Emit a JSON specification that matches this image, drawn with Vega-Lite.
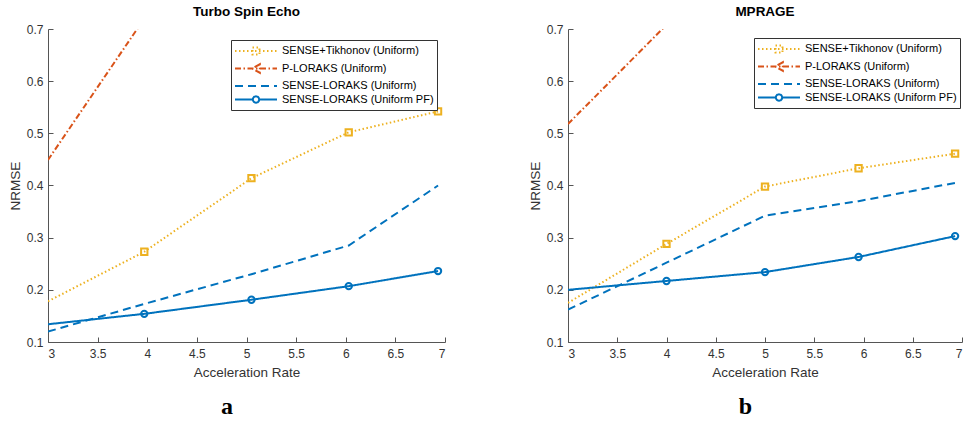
{
  "$schema": "https://vega.github.io/schema/vega-lite/v6.json",
  "padding": {"left": 8, "top": 4, "right": 0, "bottom": 0},
  "background": "white",
  "config": {
    "font": "Liberation Sans",
    "view": {"stroke": null},
    "axis": {"grid": false, "domainColor": "#555555", "tickColor": "#555555", "labelColor": "#333333", "titleColor": "#333333", "labelFont": "Liberation Sans", "titleFont": "Liberation Sans", "labelFontSize": 12, "titleFontSize": 13.5, "titleFontWeight": "normal", "tickSize": -5, "domainWidth": 1, "tickWidth": 1},
    "title": {"font": "Liberation Sans", "fontSize": 13.5, "fontWeight": "bold", "color": "#000000"}
  },
  "resolve": {"scale": {"color": "independent", "strokeDash": "independent"}, "legend": {"color": "independent", "strokeDash": "independent"}},
  "datasets": {
    "d": [
      {"panel": "a", "series": "SENSE+Tikhonov (Uniform)", "x": 3, "y": 0.178},
      {"panel": "a", "series": "SENSE+Tikhonov (Uniform)", "x": 3.97, "y": 0.273},
      {"panel": "a", "series": "SENSE+Tikhonov (Uniform)", "x": 5.05, "y": 0.414},
      {"panel": "a", "series": "SENSE+Tikhonov (Uniform)", "x": 6.03, "y": 0.502},
      {"panel": "a", "series": "SENSE+Tikhonov (Uniform)", "x": 6.93, "y": 0.542},
      {"panel": "a", "series": "P-LORAKS (Uniform)", "x": 3, "y": 0.449},
      {"panel": "a", "series": "P-LORAKS (Uniform)", "x": 3.97, "y": 0.72},
      {"panel": "a", "series": "SENSE-LORAKS (Uniform)", "x": 3, "y": 0.12},
      {"panel": "a", "series": "SENSE-LORAKS (Uniform)", "x": 3.97, "y": 0.173},
      {"panel": "a", "series": "SENSE-LORAKS (Uniform)", "x": 5.05, "y": 0.23},
      {"panel": "a", "series": "SENSE-LORAKS (Uniform)", "x": 6.03, "y": 0.285},
      {"panel": "a", "series": "SENSE-LORAKS (Uniform)", "x": 6.93, "y": 0.4},
      {"panel": "a", "series": "SENSE-LORAKS (Uniform PF)", "x": 3, "y": 0.134},
      {"panel": "a", "series": "SENSE-LORAKS (Uniform PF)", "x": 3.97, "y": 0.154},
      {"panel": "a", "series": "SENSE-LORAKS (Uniform PF)", "x": 5.05, "y": 0.181},
      {"panel": "a", "series": "SENSE-LORAKS (Uniform PF)", "x": 6.03, "y": 0.207},
      {"panel": "a", "series": "SENSE-LORAKS (Uniform PF)", "x": 6.93, "y": 0.236},
      {"panel": "b", "series": "SENSE+Tikhonov (Uniform)", "x": 3, "y": 0.175},
      {"panel": "b", "series": "SENSE+Tikhonov (Uniform)", "x": 4, "y": 0.288},
      {"panel": "b", "series": "SENSE+Tikhonov (Uniform)", "x": 5, "y": 0.398},
      {"panel": "b", "series": "SENSE+Tikhonov (Uniform)", "x": 5.95, "y": 0.433},
      {"panel": "b", "series": "SENSE+Tikhonov (Uniform)", "x": 6.93, "y": 0.461},
      {"panel": "b", "series": "P-LORAKS (Uniform)", "x": 3, "y": 0.518},
      {"panel": "b", "series": "P-LORAKS (Uniform)", "x": 4, "y": 0.708},
      {"panel": "b", "series": "SENSE-LORAKS (Uniform)", "x": 3, "y": 0.162},
      {"panel": "b", "series": "SENSE-LORAKS (Uniform)", "x": 4, "y": 0.252},
      {"panel": "b", "series": "SENSE-LORAKS (Uniform)", "x": 5, "y": 0.342},
      {"panel": "b", "series": "SENSE-LORAKS (Uniform)", "x": 5.95, "y": 0.37},
      {"panel": "b", "series": "SENSE-LORAKS (Uniform)", "x": 6.93, "y": 0.405},
      {"panel": "b", "series": "SENSE-LORAKS (Uniform PF)", "x": 3, "y": 0.2},
      {"panel": "b", "series": "SENSE-LORAKS (Uniform PF)", "x": 4, "y": 0.217},
      {"panel": "b", "series": "SENSE-LORAKS (Uniform PF)", "x": 5, "y": 0.234},
      {"panel": "b", "series": "SENSE-LORAKS (Uniform PF)", "x": 5.95, "y": 0.263},
      {"panel": "b", "series": "SENSE-LORAKS (Uniform PF)", "x": 6.93, "y": 0.303}
    ]
  },
  "spacing": 82,
  "hconcat": [
    {
      "title": {"text": "a", "orient": "bottom", "font": "Liberation Serif", "fontSize": 24, "fontWeight": "bold", "offset": 16, "anchor": "middle"},
      "vconcat": [
        {
          "title": {"text": "Turbo Spin Echo", "offset": 5},
          "width": 397,
          "height": 313,
          "data": {"name": "d"},
          "transform": [{"filter": "datum.panel === 'a'"}],
          "encoding": {
            "x": {"field": "x", "type": "quantitative", "scale": {"domain": [3, 7], "nice": false, "zero": false}, "axis": {"title": "Acceleration Rate", "values": [3, 3.5, 4, 4.5, 5, 5.5, 6, 6.5, 7], "format": "~g", "labelPadding": 11, "titlePadding": 6}},
            "y": {"field": "y", "type": "quantitative", "scale": {"domain": [0.1, 0.7], "nice": false, "zero": false}, "axis": {"title": "NRMSE", "values": [0.1, 0.2, 0.3, 0.4, 0.5, 0.6, 0.7], "format": ".1f", "labelPadding": 10, "titlePadding": 4}}
          },
          "layer": [
            {
              "mark": {"type": "line", "strokeWidth": 2, "clip": true},
              "encoding": {
                "color": {"field": "series", "type": "nominal", "scale": {"domain": ["SENSE+Tikhonov (Uniform)", "P-LORAKS (Uniform)", "SENSE-LORAKS (Uniform)", "SENSE-LORAKS (Uniform PF)"], "range": ["#EDB120", "#D95319", "#0072BD", "#0072BD"]},
                  "legend": {"title": null, "orient": "none", "legendX": 183, "legendY": 11, "fillColor": "white", "strokeColor": "#333333", "padding": 3, "labelFontSize": 11, "labelColor": "#000000", "symbolSize": 196, "symbolStrokeWidth": 2, "rowPadding": 0.5, "labelOffset": 32,
                    "encode": {"symbols": {"update": {"shape": {"signal": "datum.value === 'SENSE+Tikhonov (Uniform)' ? 'M-1,0H5M1.5,-0.5H2.5V0.5H1.5Z' : datum.value === 'P-LORAKS (Uniform)' ? 'M-1,0H5M2.55,-0.6L1.45,0L2.55,0.6Z' : datum.value === 'SENSE-LORAKS (Uniform PF)' ? 'M-1,0H1.55M2.45,0H5M1.55,0A0.45,0.45 0 1,0 2.45,0A0.45,0.45 0 1,0 1.55,0' : 'M-1,0H5'"}, "fill": {"value": "transparent"}}}}}},
                "strokeDash": {"field": "series", "type": "nominal", "scale": {"domain": ["SENSE+Tikhonov (Uniform)", "P-LORAKS (Uniform)", "SENSE-LORAKS (Uniform)", "SENSE-LORAKS (Uniform PF)"], "range": [[1.5, 2.5], [6, 2.5, 1.5, 2.5], [8, 5], [1, 0]]},
                  "legend": {"title": null, "orient": "none", "legendX": 183, "legendY": 11, "fillColor": "white", "strokeColor": "#333333", "padding": 3, "labelFontSize": 11, "labelColor": "#000000", "symbolSize": 196, "symbolStrokeWidth": 2, "rowPadding": 0.5, "labelOffset": 32}}
              }
            },
            {
              "transform": [{"filter": "datum.series === 'SENSE+Tikhonov (Uniform)' && datum.x > 3"}],
              "mark": {"type": "point", "shape": "square", "size": 40, "filled": false, "strokeWidth": 2, "color": "#EDB120", "opacity": 1}
            },
            {
              "transform": [{"filter": "datum.series === 'SENSE-LORAKS (Uniform PF)' && datum.x > 3"}],
              "mark": {"type": "point", "shape": "circle", "size": 40, "filled": false, "strokeWidth": 2, "color": "#0072BD", "opacity": 1}
            }
          ]
        }
      ]
    },
    {
      "title": {"text": "b", "orient": "bottom", "font": "Liberation Serif", "fontSize": 24, "fontWeight": "bold", "offset": 16, "anchor": "middle"},
      "vconcat": [
        {
          "title": {"text": "MPRAGE", "offset": 5},
          "width": 394,
          "height": 313,
          "data": {"name": "d"},
          "transform": [{"filter": "datum.panel === 'b'"}],
          "encoding": {
            "x": {"field": "x", "type": "quantitative", "scale": {"domain": [3, 7], "nice": false, "zero": false}, "axis": {"title": "Acceleration Rate", "values": [3, 3.5, 4, 4.5, 5, 5.5, 6, 6.5, 7], "format": "~g", "labelPadding": 11, "titlePadding": 6}},
            "y": {"field": "y", "type": "quantitative", "scale": {"domain": [0.1, 0.7], "nice": false, "zero": false}, "axis": {"title": "NRMSE", "values": [0.1, 0.2, 0.3, 0.4, 0.5, 0.6, 0.7], "format": ".1f", "labelPadding": 10, "titlePadding": 4}}
          },
          "layer": [
            {
              "mark": {"type": "line", "strokeWidth": 2, "clip": true},
              "encoding": {
                "color": {"field": "series", "type": "nominal", "scale": {"domain": ["SENSE+Tikhonov (Uniform)", "P-LORAKS (Uniform)", "SENSE-LORAKS (Uniform)", "SENSE-LORAKS (Uniform PF)"], "range": ["#EDB120", "#D95319", "#0072BD", "#0072BD"]},
                  "legend": {"title": null, "orient": "none", "legendX": 186, "legendY": 9, "fillColor": "white", "strokeColor": "#333333", "padding": 3, "labelFontSize": 11, "labelColor": "#000000", "symbolSize": 196, "symbolStrokeWidth": 2, "rowPadding": 0.5, "labelOffset": 32,
                    "encode": {"symbols": {"update": {"shape": {"signal": "datum.value === 'SENSE+Tikhonov (Uniform)' ? 'M-1,0H5M1.5,-0.5H2.5V0.5H1.5Z' : datum.value === 'P-LORAKS (Uniform)' ? 'M-1,0H5M2.55,-0.6L1.45,0L2.55,0.6Z' : datum.value === 'SENSE-LORAKS (Uniform PF)' ? 'M-1,0H1.55M2.45,0H5M1.55,0A0.45,0.45 0 1,0 2.45,0A0.45,0.45 0 1,0 1.55,0' : 'M-1,0H5'"}, "fill": {"value": "transparent"}}}}}},
                "strokeDash": {"field": "series", "type": "nominal", "scale": {"domain": ["SENSE+Tikhonov (Uniform)", "P-LORAKS (Uniform)", "SENSE-LORAKS (Uniform)", "SENSE-LORAKS (Uniform PF)"], "range": [[1.5, 2.5], [6, 2.5, 1.5, 2.5], [8, 5], [1, 0]]},
                  "legend": {"title": null, "orient": "none", "legendX": 186, "legendY": 9, "fillColor": "white", "strokeColor": "#333333", "padding": 3, "labelFontSize": 11, "labelColor": "#000000", "symbolSize": 196, "symbolStrokeWidth": 2, "rowPadding": 0.5, "labelOffset": 32}}
              }
            },
            {
              "transform": [{"filter": "datum.series === 'SENSE+Tikhonov (Uniform)' && datum.x > 3"}],
              "mark": {"type": "point", "shape": "square", "size": 40, "filled": false, "strokeWidth": 2, "color": "#EDB120", "opacity": 1}
            },
            {
              "transform": [{"filter": "datum.series === 'SENSE-LORAKS (Uniform PF)' && datum.x > 3"}],
              "mark": {"type": "point", "shape": "circle", "size": 40, "filled": false, "strokeWidth": 2, "color": "#0072BD", "opacity": 1}
            }
          ]
        }
      ]
    }
  ]
}
